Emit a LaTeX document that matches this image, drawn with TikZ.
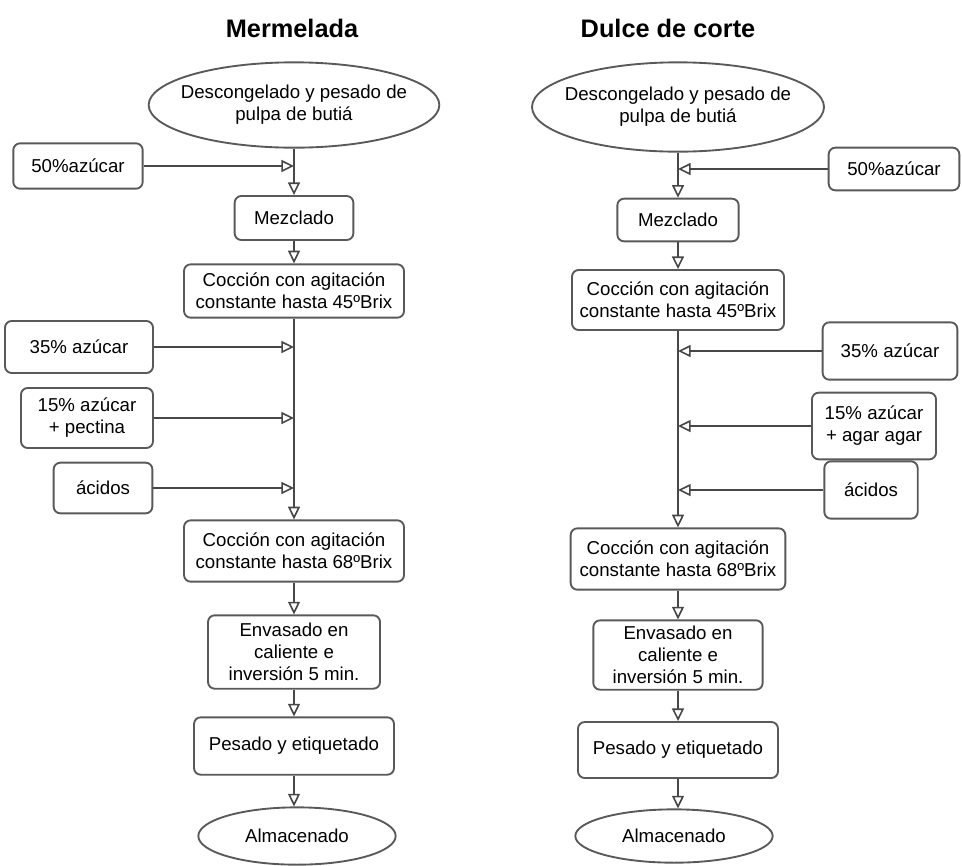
\documentclass[tikz,border=0pt]{standalone}
\usepackage{fontspec}
\setmainfont{Liberation Sans}
\usepackage{xcolor}
\usetikzlibrary{arrows.meta,positioning,shapes.geometric}

\begin{document}
\begin{tikzpicture}[
    x=0.75pt, y=-0.75pt,
    font=\fontsize{14}{16.5}\selectfont,
    box/.style={draw=black!65, line width=1.4pt, rounded corners=5pt, fill=white, align=center, inner sep=2pt},
    oval/.style={ellipse, draw=black!65, line width=1.4pt, fill=white, align=center, inner xsep=-10pt, inner ysep=0pt},
    ttl/.style={font=\fontsize{19}{22}\selectfont\bfseries},
    arr/.style={-{Triangle[open,length=9.5pt,width=9pt,line width=1.2pt]}, line width=2pt, draw=black!72}
  ]
    \useasboundingbox (0,0) rectangle (962,865);

    % Mermelada
    \node[ttl] (m-title) at (292,28) {Mermelada};
    \node[oval, minimum width=218pt, minimum height=64pt] (m-desc) at (294,105) {Descongelado y pesado de\\pulpa de butiá};
    \node[box, minimum width=97pt, minimum height=34pt] (m-az50) at (78,166) {50\%azúcar};
    \node[box, minimum width=89pt, minimum height=33pt] (m-mez) at (294,218) {Mezclado};
    \node[box, minimum width=165pt, minimum height=40pt] (m-coc1) at (294,291) {Cocción con agitación\\constante hasta 45ºBrix};
    \node[box, minimum width=111pt, minimum height=39pt] (m-az35) at (79,347) {35\% azúcar};
    \node[box, minimum width=99pt, minimum height=45pt] (m-az15) at (87,418) {15\% azúcar\\+ pectina};
    \node[box, minimum width=74pt, minimum height=38pt] (m-acid) at (103,488) {ácidos};
    \node[box, minimum width=165pt, minimum height=46pt] (m-coc2) at (294,551) {Cocción con agitación\\constante hasta 68ºBrix};
    \node[box, minimum width=129pt, minimum height=55pt] (m-env) at (294,652) {Envasado en\\caliente e\\inversión 5 min.};
    \node[box, minimum width=150pt, minimum height=43pt] (m-pes) at (294,746) {Pesado y etiquetado};
    \node[oval, minimum width=148pt, minimum height=43pt] (m-alm) at (297,836) {Almacenado};

    \coordinate (m-j50) at (m-mez.north |- m-az50.east);
    \coordinate (m-j35) at (m-coc2.north |- m-az35.east);
    \coordinate (m-j15) at (m-coc2.north |- m-az15.east);
    \coordinate (m-jac) at (m-coc2.north |- m-acid.east);

    \draw[arr] (m-desc.south) -- (m-mez.north);
    \draw[arr] (m-az50) -- (m-j50);
    \draw[arr] (m-mez) -- (m-coc1);
    \draw[arr] (m-coc1) -- (m-coc2);
    \draw[arr] (m-az35) -- (m-j35);
    \draw[arr] (m-az15) -- (m-j15);
    \draw[arr] (m-acid) -- (m-jac);
    \draw[arr] (m-coc2) -- (m-env);
    \draw[arr] (m-env) -- (m-pes);
    \draw[arr] (m-pes.south) -- (m-pes.south |- m-alm.north);

    % Dulce de corte
    \node[ttl] (d-title) at (668,28) {Dulce de corte};
    \node[oval, minimum width=219pt, minimum height=67pt] (d-desc) at (678,107) {Descongelado y pesado de\\pulpa de butiá};
    \node[box, minimum width=98pt, minimum height=32pt] (d-az50) at (894,169) {50\%azúcar};
    \node[box, minimum width=91pt, minimum height=32pt] (d-mez) at (678,220) {Mezclado};
    \node[box, minimum width=159pt, minimum height=45pt] (d-coc1) at (678,300) {Cocción con agitación\\constante hasta 45ºBrix};
    \node[box, minimum width=101pt, minimum height=43pt] (d-az35) at (890,351) {35\% azúcar};
    \node[box, minimum width=93pt, minimum height=50pt] (d-az15) at (874,426) {15\% azúcar\\+ agar agar};
    \node[box, minimum width=70pt, minimum height=43pt] (d-acid) at (871,490) {ácidos};
    \node[box, minimum width=161pt, minimum height=46pt] (d-coc2) at (678,559) {Cocción con agitación\\constante hasta 68ºBrix};
    \node[box, minimum width=127pt, minimum height=52pt] (d-env) at (678,655) {Envasado en\\caliente e\\inversión 5 min.};
    \node[box, minimum width=150pt, minimum height=42pt] (d-pes) at (678,750) {Pesado y etiquetado};
    \node[oval, minimum width=148pt, minimum height=40pt] (d-alm) at (674,836) {Almacenado};

    \coordinate (d-j50) at (d-mez.north |- d-az50.west);
    \coordinate (d-j35) at (d-coc2.north |- d-az35.west);
    \coordinate (d-j15) at (d-coc2.north |- d-az15.west);
    \coordinate (d-jac) at (d-coc2.north |- d-acid.west);

    \draw[arr] (d-desc.south) -- (d-mez.north);
    \draw[arr] (d-az50) -- (d-j50);
    \draw[arr] (d-mez) -- (d-coc1);
    \draw[arr] (d-coc1) -- (d-coc2);
    \draw[arr] (d-az35) -- (d-j35);
    \draw[arr] (d-az15) -- (d-j15);
    \draw[arr] (d-acid) -- (d-jac);
    \draw[arr] (d-coc2) -- (d-env);
    \draw[arr] (d-env) -- (d-pes);
    \draw[arr] (d-pes.south) -- (d-pes.south |- d-alm.north);
\end{tikzpicture}
\end{document}
